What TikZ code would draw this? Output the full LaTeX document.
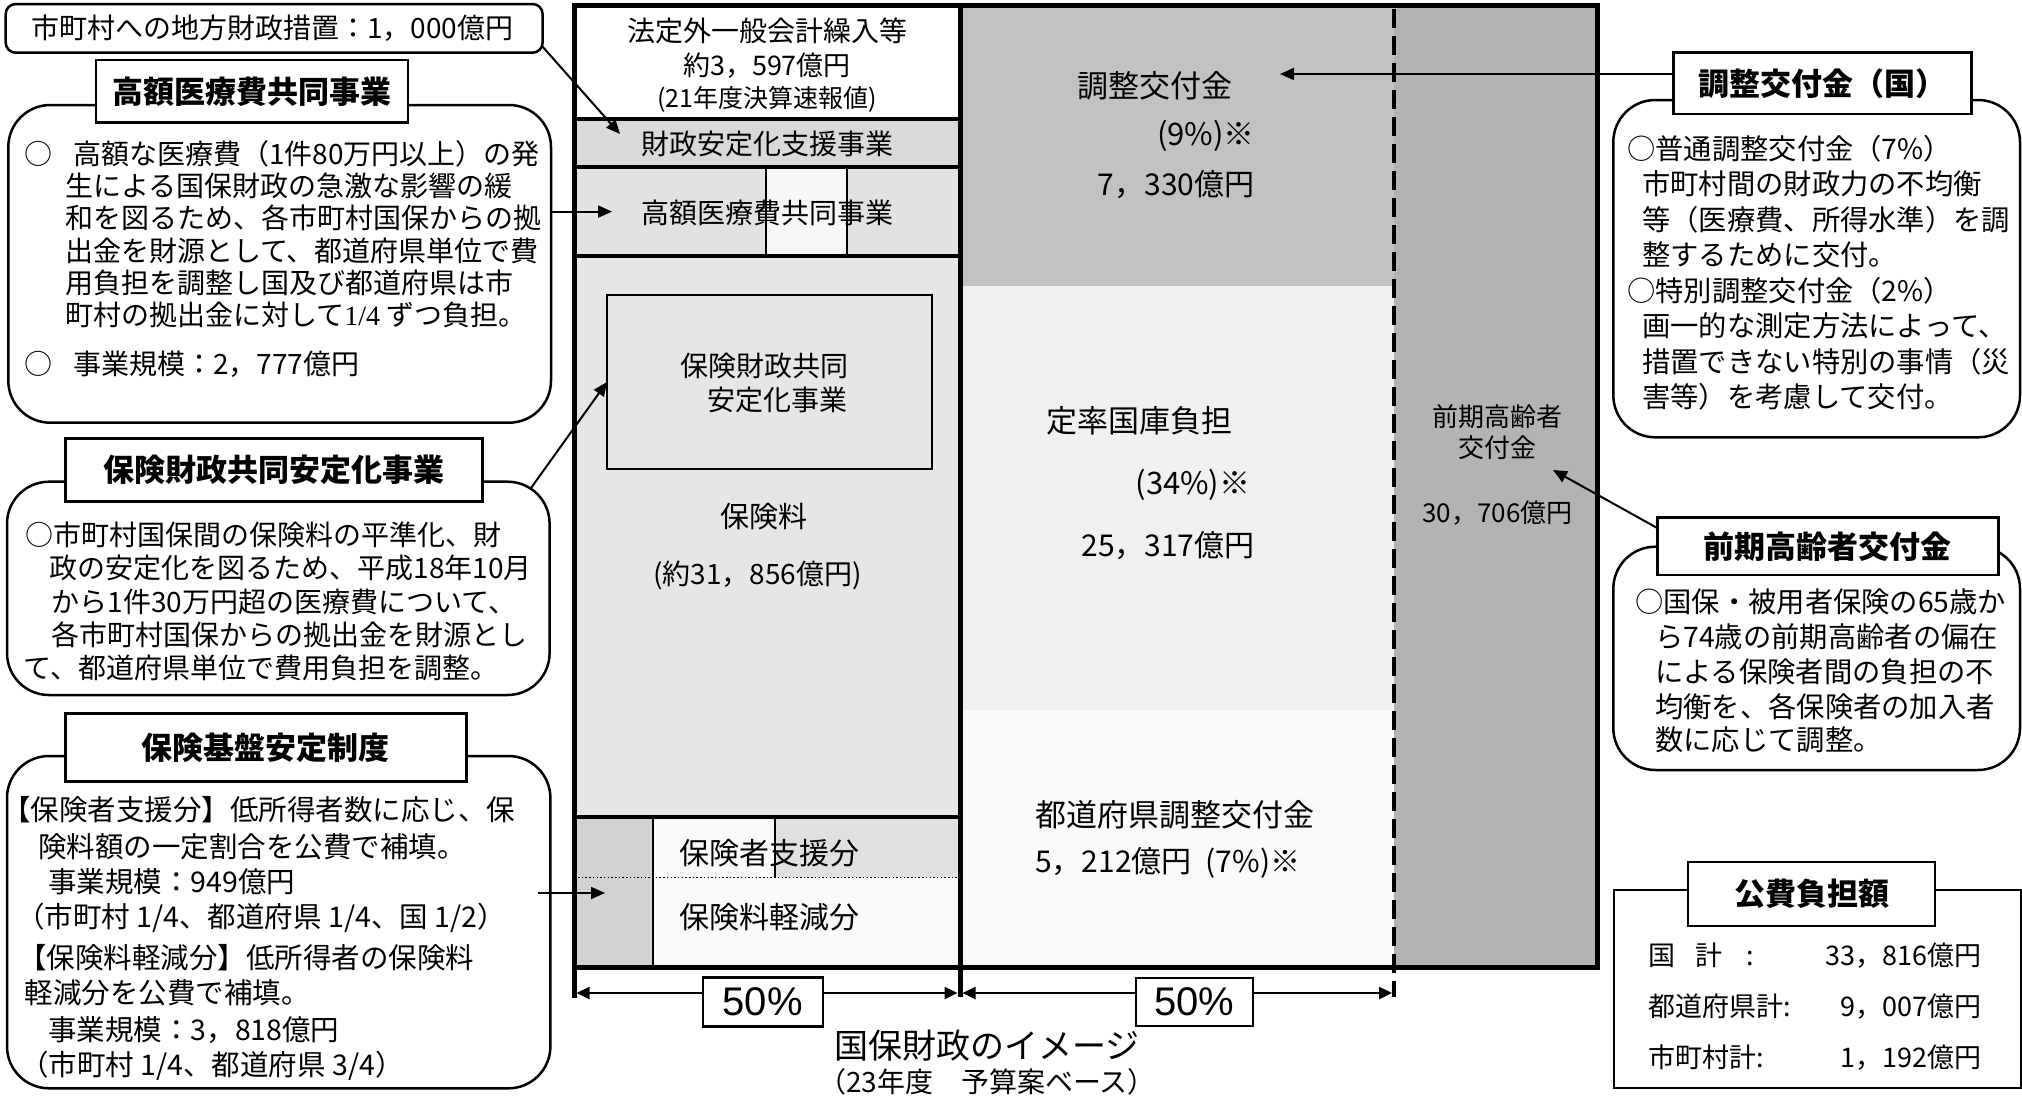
\documentclass[tikz,border=0pt]{standalone}
\usepackage{fontspec}
\setmainfont{Noto Sans CJK JP}
\newfontfamily\pctfont{Liberation Sans}
\newfontfamily\serifjp{Liberation Serif}
\usetikzlibrary{arrows.meta}
\newcommand{\fsz}[1]{\fontsize{#1}{#1}\selectfont}
\definecolor{cA}{HTML}{D9D9D9}
\definecolor{cB}{HTML}{E2E2E2}
\definecolor{cS}{HTML}{F7F7F7}
\definecolor{cC}{HTML}{E6E6E6}
\definecolor{cD}{HTML}{D2D2D2}
\definecolor{cE}{HTML}{E0E0E0}
\definecolor{cW}{HTML}{FAFAFA}
\definecolor{mA}{HTML}{C2C2C2}
\definecolor{mB}{HTML}{F0F0F0}
\definecolor{rA}{HTML}{B3B3B3}
\begin{document}
\begin{tikzpicture}[x=1pt,y=-1pt,
  box/.style={draw, line width=2.5pt, fill=white, inner sep=0pt, outer sep=0pt, anchor=north west, rounded corners=42pt},
  ttl/.style={draw, line width=2.6pt, fill=white, inner sep=0pt, outer sep=0pt, font=\bfseries\fsz{31}},
  ln/.style={anchor=base west, inner sep=0pt},
  lab/.style={anchor=base, inner sep=0pt},
  conn/.style={line width=2pt, -{Triangle[length=14pt,width=12pt]}},
  dimar/.style={line width=2.5pt, {Triangle[length=13pt,width=12pt]}-{Triangle[length=13pt,width=12pt]}},
  pct/.style={draw, line width=2.2pt, fill=white, inner sep=0pt, font=\pctfont\fsz{40}},
  sep/.style={line width=4pt},
  thin/.style={line width=1.8pt}
]
\useasboundingbox (0,0) rectangle (2022,1096);
\fill[white] (0,0) rectangle (2022,1096);

% ---------- frame fills ----------
\fill[white] (574,5) rectangle (960,118.6);
\fill[cA] (574,118.6) rectangle (960,166.5);
\fill[cB] (574,166.5) rectangle (960,256.4);
\fill[cS] (765.6,166.5) rectangle (846.6,256.4);
\fill[cC] (574,256.4) rectangle (960,816.7);
\fill[cD] (574,816.7) rectangle (652.7,967);
\fill[cW] (652.7,816.7) rectangle (775,877.3);
\fill[cE] (775,816.7) rectangle (960,877.3);
\fill[cW] (652.7,877.3) rectangle (960,967);
\fill[mA] (960,5) rectangle (1394,286);
\fill[mB] (960,286) rectangle (1394,710.4);
\fill[cW] (960,710.4) rectangle (1394,967);
\fill[rA] (1394,5) rectangle (1597,967);

% ---------- frame lines ----------
\draw[sep] (574,118.6) -- (960,118.6);
\draw[sep] (574,166.5) -- (960,166.5);
\draw[sep] (574,256.4) -- (960,256.4);
\draw[sep] (574,816.7) -- (960,816.7);
\draw[thin] (765.6,166.5) -- (765.6,256.4);
\draw[thin] (846.6,166.5) -- (846.6,256.4);
\draw[line width=2.2pt] (652.7,816.7) -- (652.7,967);
\draw[thin] (775,816.7) -- (775,877.3);
\draw[line width=1.5pt, dash pattern=on 1.5pt off 2.2pt] (578,877.3) -- (957,877.3);
\node[draw, line width=2pt, fill=cC, inner sep=0pt, outer sep=0pt, anchor=north west,
      minimum width=325pt, minimum height=174pt] (ib) at (607,295) {};
\draw[line width=4pt, dash pattern=on 19pt off 8pt] (1394,9) -- (1394,997);
\draw[line width=5pt] (574,5) rectangle (1597,967);
\draw[line width=5pt] (574,967) -- (574,998);
\draw[line width=5pt] (960,5) -- (960,997);

% ---------- frame texts ----------
\node[lab, font=\fsz{28}] (f1) at (767,41.6) {法定外一般会計繰入等};
\node[lab, font=\fsz{27}] (f2) at (767,75.3) {約3，597億円};
\node[lab, font=\fsz{25}] (f3) at (767,107.1) {(21年度決算速報値)};
\node[lab, font=\fsz{28}] (f4) at (767.6,154.1) {財政安定化支援事業};
\node[lab, font=\fsz{28}] (f5) at (767.6,223) {高額医療費共同事業};
\node[lab, font=\fsz{28}] (f6) at (764,376) {保険財政共同};
\node[lab, font=\fsz{28}] (f7) at (777.6,410.6) {安定化事業};
\node[lab, font=\fsz{29}] (f8) at (764,527.6) {保険料};
\node[lab, font=\fsz{28}] (f9) at (757.5,584.3) {(約31，856億円)};
\node[ln, font=\fsz{30}] (f10) at (679,864.7) {保険者支援分};
\node[ln, font=\fsz{30}] (f11) at (679,928.1) {保険料軽減分};
\node[lab, font=\fsz{31}] (m1) at (1154.6,97.8) {調整交付金};
\node[lab, font=\fsz{31}] (m2) at (1206,145.4) {(9\%)※};
\node[lab, font=\fsz{30}] (m3) at (1176,195) {7，330億円};
\node[lab, font=\fsz{31}] (m4) at (1139,432.8) {定率国庫負担};
\node[lab, font=\fsz{31}] (m5) at (1193,494.4) {(34\%)※};
\node[lab, font=\fsz{30}] (m6) at (1168,556.4) {25，317億円};
\node[ln, font=\fsz{31}] (m7) at (1035,826.5) {都道府県調整交付金};
\node[ln, font=\fsz{30}] (m8) at (1035,872.4) {5，212億円\hspace{14pt}(7\%)※};
\node[lab, font=\fsz{26}] (k1) at (1497.5,426.9) {前期高齢者};
\node[lab, font=\fsz{26}] (k2) at (1497.5,457.6) {交付金};
\node[lab, font=\fsz{26}] (k3) at (1497.5,522.7) {30，706億円};

% ---------- callout boxes ----------
\node[box, rounded corners=10pt, minimum width=536.9pt, minimum height=48.7pt] (c0) at (5.7,4) {};
\node[ln, font=\fsz{28}] (c0t) at (31,38.8) {市町村への地方財政措置：1，000億円};

\node[box, minimum width=542.7pt, minimum height=317.7pt] (r1) at (8.3,105) {};
\node[box, minimum width=542.6pt, minimum height=213.3pt] (r2) at (7,481.7) {};
\node[box, minimum width=543.4pt, minimum height=332.3pt] (r3) at (7,756) {};
\node[box, minimum width=406.7pt, minimum height=337.3pt] (r4) at (1613.3,100) {};
\node[box, minimum width=406.7pt, minimum height=223.3pt] (r5) at (1613.3,546.7) {};
\node[box, rounded corners=0pt, minimum width=407pt, minimum height=198pt] (r6) at (1614,890) {};

\node[ttl, minimum width=312pt, minimum height=62.7pt] (t1) at (252,91.35) {高額医療費共同事業};
\node[ttl, minimum width=417.2pt, minimum height=63.4pt] (t2) at (273.8,470) {保険財政共同安定化事業};
\node[ttl, minimum width=401.4pt, minimum height=68.4pt] (t3) at (265.9,747.5) {保険基盤安定制度};
\node[ttl, minimum width=298.4pt, minimum height=61.3pt] (t4) at (1822.5,83.35) {調整交付金（国）};
\node[ttl, minimum width=341pt, minimum height=57.7pt] (t5) at (1827.8,546.2) {前期高齢者交付金};
\node[ttl, minimum width=247pt, minimum height=64pt] (t6) at (1811.5,894) {公費負担額};

% ---------- callout texts ----------
\foreach \mytext/\x/\y [count=\i] in {
  {○\hspace{21pt}高額な医療費（1件80万円以上）の発}/24/164,
  {生による国保財政の急激な影響の緩}/65/196.3,
  {和を図るため、各市町村国保からの拠}/65/228.6,
  {出金を財源として、都道府県単位で費}/65/261,
  {用負担を調整し国及び都道府県は市}/65/293.3,
  {町村の拠出金に対して{\serifjp 1/4} ずつ負担。}/65/325.6,
  {○\hspace{21pt}事業規模：2，777億円}/24/374}
  {\node[ln, font=\fsz{28}] (ba\i) at (\x,\y) {\mytext};}

\foreach \mytext/\x/\y [count=\i] in {
  {○市町村国保間の保険料の平準化、財}/25/545.6,
  {政の安定化を図るため、平成18年10月}/49.4/578.9,
  {から1件30万円超の医療費について、}/51.4/612.3,
  {各市町村国保からの拠出金を財源とし}/51.4/645.6,
  {て、都道府県単位で費用負担を調整。}/23.7/678.9}
  {\node[ln, font=\fsz{28}] (bb\i) at (\x,\y) {\mytext};}

\foreach \mytext/\x/\y [count=\i] in {
  {【保険者支援分】低所得者数に応じ、保}/2/820.6,
  {険料額の一定割合を公費で補填。}/38/857.3,
  {事業規模：949億円}/48/892.3,
  {（市町村 1/4、都道府県 1/4、国 1/2）}/16/927.3,
  {【保険料軽減分】低所得者の保険料}/18/968.9,
  {軽減分を公費で補填。}/24.5/1003.9,
  {事業規模：3，818億円}/48/1040.6,
  {（市町村 1/4、都道府県 3/4）}/20/1075.6}
  {\node[ln, font=\fsz{28.5}] (bc\i) at (\x,\y) {\mytext};}

\foreach \mytext/\x/\y [count=\i] in {
  {○普通調整交付金（7\%）}/1627/159.1,
  {市町村間の財政力の不均衡}/1642/194.6,
  {等（医療費、所得水準）を調}/1642/230.1,
  {整するために交付。}/1642/265.6,
  {○特別調整交付金（2\%）}/1627/301.1,
  {画一的な測定方法によって、}/1642/336.6,
  {措置できない特別の事情（災}/1642/372.1,
  {害等）を考慮して交付。}/1642/407.6}
  {\node[ln, font=\fsz{28.3}] (bd\i) at (\x,\y) {\mytext};}

\foreach \mytext/\x/\y [count=\i] in {
  {○国保・被用者保険の65歳か}/1635/612.5,
  {ら74歳の前期高齢者の偏在}/1655/647.5,
  {による保険者間の負担の不}/1655/682.5,
  {均衡を、各保険者の加入者}/1655/717.5,
  {数に応じて調整。}/1655/750.8}
  {\node[ln, font=\fsz{28.3}] (be\i) at (\x,\y) {\mytext};}

\node[ln, font=\fsz{27}] (g1) at (1648,965) {国\hspace{20pt}計\hspace{24pt}:};
\node[anchor=base east, inner sep=0pt, font=\fsz{27}] (v1) at (1982,965) {33，816億円};
\node[ln, font=\fsz{27}] (g2) at (1648,1016) {都道府県計:};
\node[anchor=base east, inner sep=0pt, font=\fsz{27}] (v2) at (1982,1016) {9，007億円};
\node[ln, font=\fsz{27}] (g3) at (1648,1067) {市町村計:};
\node[anchor=base east, inner sep=0pt, font=\fsz{27}] (v3) at (1982,1067) {1，192億円};

% ---------- connectors ----------
\coordinate (tipA) at (620,134);
\coordinate (tipB) at (612,211.6);
\coordinate (a2s) at (531,488);
\coordinate (a3s) at (538,893);
\coordinate (tipD) at (605,893);
\coordinate (tipE) at (1280,74);
\coordinate (tipF) at (1553,470);
\draw[conn] ([yshift=6pt]c0.south east) -- (tipA);
\draw[conn] (r1.east |- tipB) -- (tipB);
\draw[conn] (a2s) -- (ib.west);
\draw[conn] (a3s) -- (tipD);
\draw[conn] (t4.west |- tipE) -- (tipE);
\draw[conn] ([yshift=-10.7pt]t5.north west) -- (tipF);

% ---------- dimension arrows ----------
\coordinate (dL) at (576.5,993);
\coordinate (dM1) at (957.5,993);
\coordinate (dM2) at (962.5,993);
\coordinate (dR) at (1392,993);
\draw[dimar] (dL) -- (dM1);
\draw[dimar] (dM2) -- (dR);
\node[pct, minimum width=120pt, minimum height=49pt] (p1) at (762.7,1002) {50\%};
\node[pct, minimum width=117pt, minimum height=48pt] (p2) at (1194.5,1002) {50\%};

\node[lab, font=\fsz{34}] (cap1) at (987,1058.4) {国保財政のイメージ};
\node[lab, font=\fsz{28}] (cap2) at (987,1092.5) {（23年度　予算案ベース）};
\end{tikzpicture}
\end{document}
